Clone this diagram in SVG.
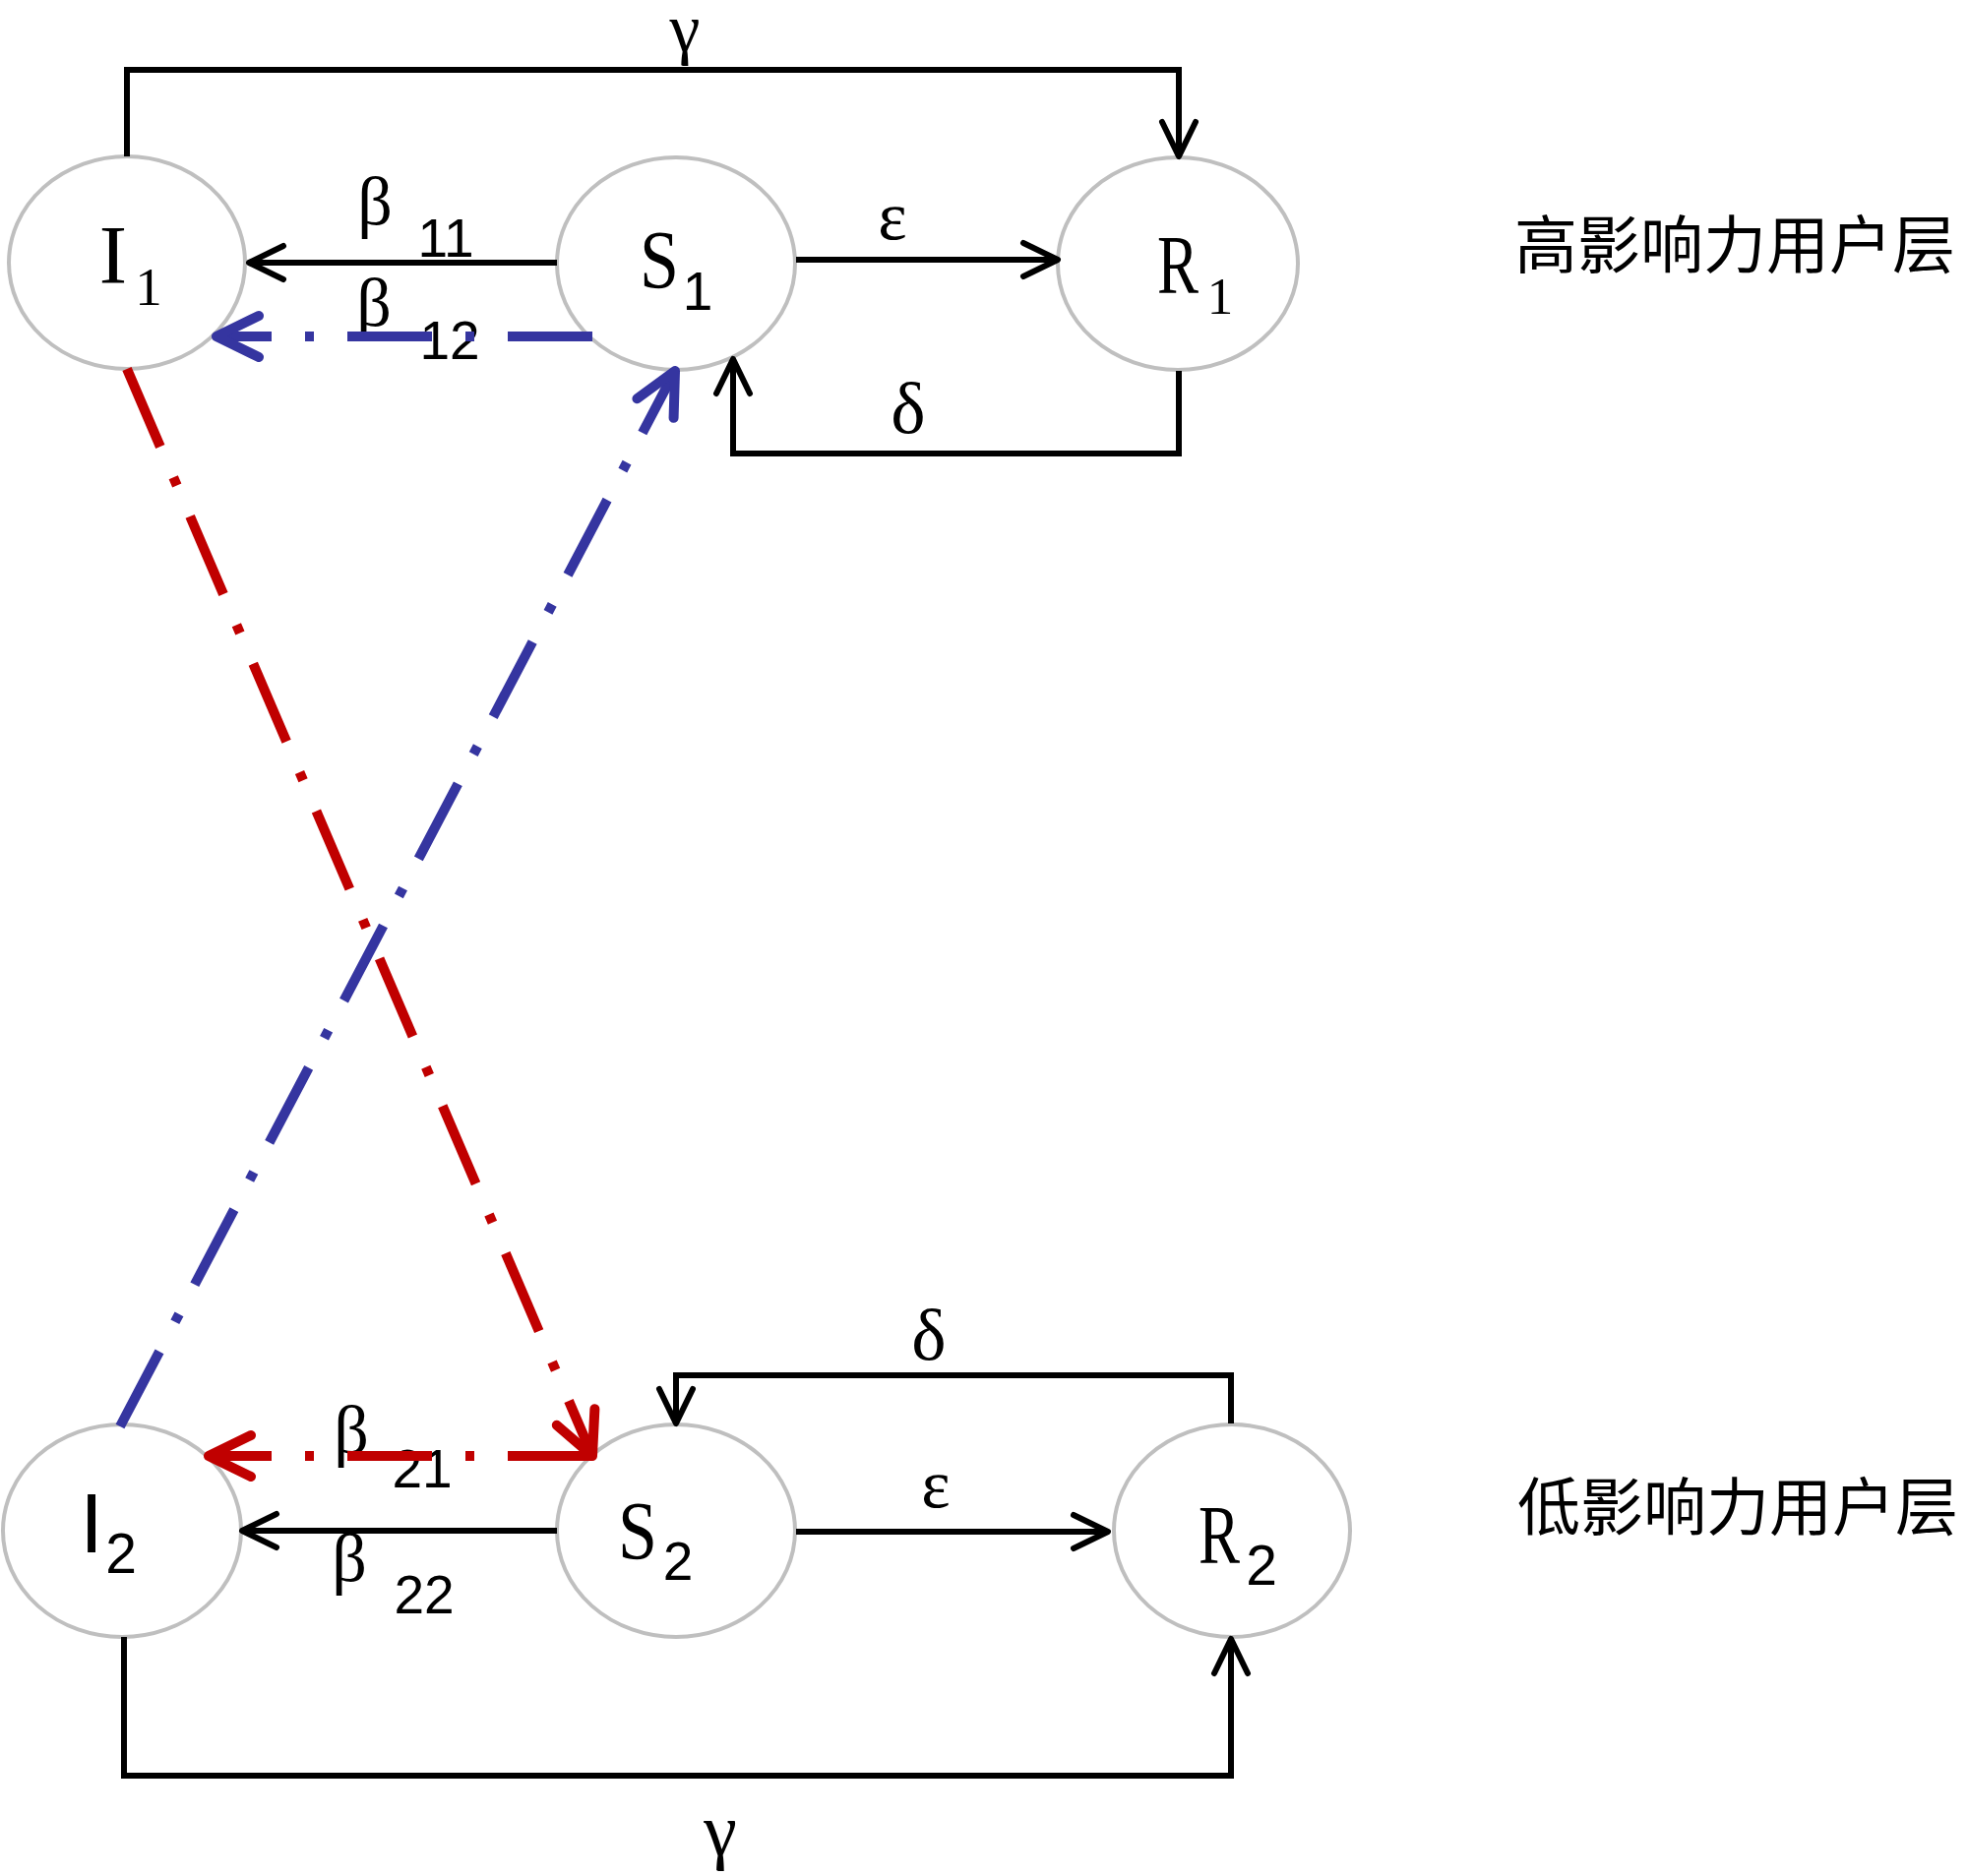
<svg xmlns="http://www.w3.org/2000/svg" width="2000" height="1907" viewBox="0 0 2000 1907">
<style>
.node{fill:#fff;stroke:#bfbfbf;stroke-width:4}
.blk{fill:none;stroke:#000;stroke-width:6}
.blue{fill:none;stroke:#3535a0;stroke-width:10;stroke-dasharray:86 34 9 34}
.red{fill:none;stroke:#c00000;stroke-width:10;stroke-dasharray:86 34 9 34}
.serif{font-family:"Liberation Serif","Times New Roman",serif;fill:#000}
.sans{font-family:"Liberation Sans",Arial,sans-serif;fill:#000}
.cjk{font-family:"Noto Sans CJK SC","Noto Sans",sans-serif;fill:#000;font-size:64px}
.mid{text-anchor:middle}
</style>
<defs>
<marker id="ab" markerUnits="userSpaceOnUse" orient="auto" overflow="visible" markerWidth="10" markerHeight="10" refX="0" refY="0">
<path d="M-35,-17 L0,0 L-35,17" fill="none" stroke="#000" stroke-width="6" stroke-linecap="round" stroke-linejoin="round"/>
</marker>
<marker id="abl" markerUnits="userSpaceOnUse" orient="auto" overflow="visible" markerWidth="10" markerHeight="10" refX="0" refY="0">
<path d="M-43,-21 L0,0 L-43,21" fill="none" stroke="#3535a0" stroke-width="10" stroke-linecap="round" stroke-linejoin="round" stroke-dasharray="none"/>
</marker>
<marker id="ar" markerUnits="userSpaceOnUse" orient="auto" overflow="visible" markerWidth="10" markerHeight="10" refX="0" refY="0">
<path d="M-43,-21 L0,0 L-43,21" fill="none" stroke="#c00000" stroke-width="10" stroke-linecap="round" stroke-linejoin="round" stroke-dasharray="none"/>
</marker>
</defs>
<rect width="2000" height="1907" fill="#fff"/>

<g id="nodes">
<g id="I1"><ellipse class="node" cx="129" cy="267" rx="120" ry="108"/>
<text class="serif mid" x="115" y="288" font-size="85">I</text>
<text class="serif mid" x="151" y="310" font-size="55">1</text></g>
<g id="S1"><ellipse class="node" cx="687" cy="268" rx="121" ry="108"/>
<text class="serif mid" x="670" y="293" font-size="85" textLength="40" lengthAdjust="spacingAndGlyphs">S</text>
<text class="sans mid" x="709" y="315" font-size="55">1</text></g>
<g id="R1"><ellipse class="node" cx="1197" cy="268" rx="122" ry="108"/>
<text class="serif mid" x="1197" y="298" font-size="85" textLength="42" lengthAdjust="spacingAndGlyphs">R</text>
<text class="serif mid" x="1240" y="319" font-size="53">1</text></g>
<g id="I2"><ellipse class="node" cx="124" cy="1556" rx="121" ry="108"/>
<text class="sans mid" x="93" y="1578" font-size="85">I</text>
<text class="sans mid" x="123" y="1599" font-size="57">2</text></g>
<g id="S2"><ellipse class="node" cx="687" cy="1556" rx="121" ry="108"/>
<text class="serif mid" x="648" y="1585" font-size="85" textLength="40" lengthAdjust="spacingAndGlyphs">S</text>
<text class="sans mid" x="689" y="1606" font-size="55">2</text></g>
<g id="R2"><ellipse class="node" cx="1252" cy="1556" rx="120" ry="108"/>
<text class="serif mid" x="1239" y="1589" font-size="85" textLength="42" lengthAdjust="spacingAndGlyphs">R</text>
<text class="sans mid" x="1282" y="1611" font-size="57">2</text></g>
</g>

<g id="connectors">
<path class="blk" d="M129,159 V71 H1198 V159" marker-end="url(#ab)"/>
<path class="blk" d="M566,267 H253" marker-end="url(#ab)"/>
<path class="blk" d="M809,264 H1075" marker-end="url(#ab)"/>
<path class="blk" d="M1198,377 V461 H745 V365" marker-end="url(#ab)"/>
<path class="blk" d="M566,1556 H246" marker-end="url(#ab)"/>
<path class="blk" d="M809,1557 H1126" marker-end="url(#ab)"/>
<path class="blk" d="M1251,1447 V1398 H687 V1447" marker-end="url(#ab)"/>
<path class="blk" d="M126,1664 V1805 H1251 V1666" marker-end="url(#ab)"/>
</g>

<g id="edge-labels">
<text class="serif mid" x="696" y="52" font-size="70">γ</text>
<text class="serif mid" x="907" y="243" font-size="70">ε</text>
<text class="serif mid" x="923" y="440" font-size="75">δ</text>
<text class="serif mid" x="381" y="228" font-size="70">β</text>
<text class="sans mid" x="453" y="261" font-size="55">11</text>
<text class="serif mid" x="380" y="331" font-size="70">β</text>
<text class="sans mid" x="457" y="365" font-size="55">12</text>
<text class="serif mid" x="357" y="1477" font-size="70">β</text>
<text class="sans mid" x="429" y="1512" font-size="55">21</text>
<text class="serif mid" x="355" y="1607" font-size="70">β</text>
<text class="sans mid" x="431" y="1640" font-size="55">22</text>
<text class="serif mid" x="951" y="1532" font-size="70">ε</text>
<text class="serif mid" x="944" y="1382" font-size="75">δ</text>
<text class="serif mid" x="732" y="1886" font-size="76">γ</text>
</g>

<g id="cross-connectors">
<path class="blue" d="M602,342 H220" marker-end="url(#abl)"/>
<path class="red" d="M602,1480 H212" marker-end="url(#ar)"/>
<path class="red" d="M129,375 L602,1480" marker-end="url(#ar)"/>
<path class="blue" d="M122,1450 L686,377" marker-end="url(#abl)"/>
</g>

<g id="layer-labels">
<text class="cjk" x="1539" y="272">高影响力用户层</text>
<text class="cjk" x="1542" y="1555">低影响力用户层</text>
</g>
</svg>
